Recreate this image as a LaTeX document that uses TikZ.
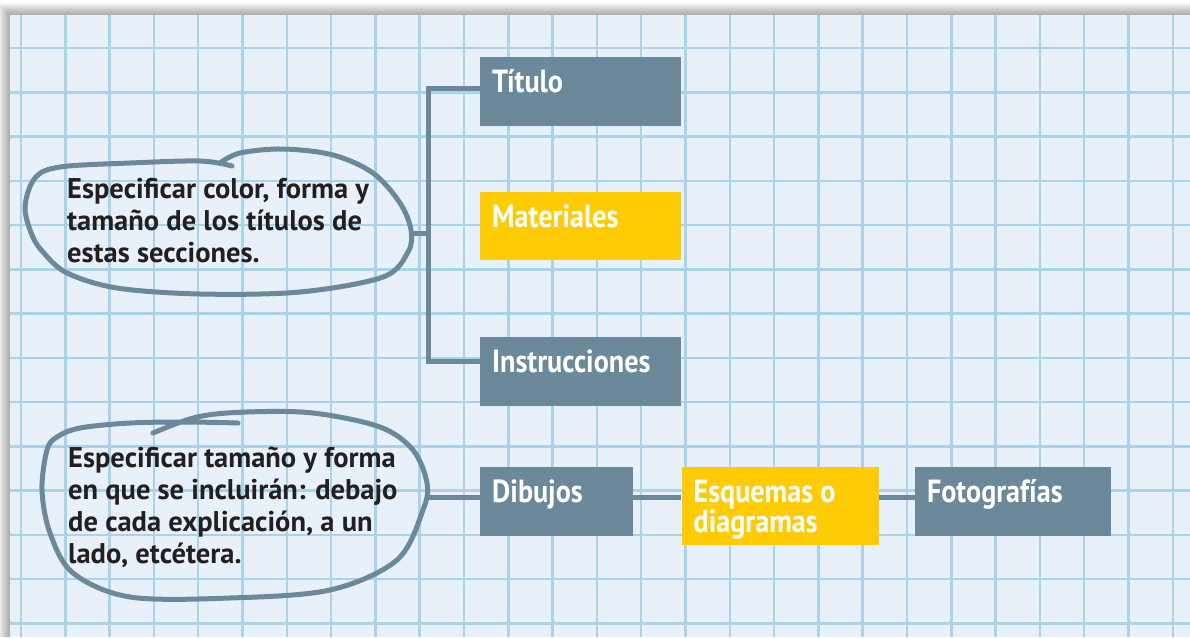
\documentclass[tikz,border=0pt]{standalone}
\usepackage{fontspec}
\setmainfont{PT Sans}[FakeStretch=0.88]
\newfontfamily\notafuente{PT Sans}
\definecolor{pizarra}{HTML}{6B899A}
\definecolor{ambar}{HTML}{FFCB05}
\definecolor{papel}{HTML}{E8F0F9}
\definecolor{cuadro}{HTML}{A9D3E9}
\definecolor{tinta}{HTML}{231F20}
\newcommand\fuentecaja{\fontsize{32}{30}\selectfont\bfseries}
\newcommand\fuentenota{\notafuente\fontsize{28.5}{32}\selectfont\bfseries}

\begin{document}
\begin{tikzpicture}[x=1pt,y=-1pt,
    caja/.style={fill=pizarra, text=white, font=\fuentecaja, align=flush left, anchor=north west,
      inner xsep=12pt, inner ysep=0pt, text height=35pt, text depth=34pt, text width=#1},
    amarilla/.style={fill=ambar},
    nota/.style={font=\fuentenota, align=left, anchor=base west, inner sep=0pt, text=tinta},
    linea/.style={draw=pizarra, line width=5pt},
    lazo/.style={draw=pizarra, line width=5pt, line cap=round, line join=round},
    rejilla/.style={draw=cuadro, line width=2.5pt}]
  \useasboundingbox (0,0) rectangle (1190,637);
  \foreach \s in {1,...,12} \fill[black, opacity=0.03] (10-\s,15-\s) rectangle (1190,637);
  \fill[papel] (10,15) rectangle (1190,637);
  \foreach \i in {0,...,26} \draw[rejilla] (21+44.3*\i,15) -- (21+44.3*\i,637);
  \foreach \j in {0,...,13} \draw[rejilla] (10,48+44.25*\j) -- (1190,48+44.25*\j);

  \node[caja=177pt] (titulo) at (480,57) {Título};
  \node[caja=177pt, amarilla, text depth=33pt] (materiales) at (480,192) {Materiales};
  \node[caja=177pt] (instrucciones) at (480,337) {Instrucciones};
  \node[caja=129pt] (dibujos) at (480,467) {Dibujos};
  \node[caja=173pt, amarilla, text depth=43pt] (esquemas) at ([xshift=48pt]dibujos.north east) {Esquemas o\\diagramas};
  \node[caja=172pt] (fotos) at ([xshift=36pt]esquemas.north east) {Fotografías};

  \node[nota] (nota1) at (67,262) {Especificar color, forma y\\tamaño de los títulos de\\estas secciones.};
  \node[nota] (nota2) at (68,563) {Especificar tamaño y forma\\en que se incluirán: debajo\\de cada explicación, a un\\lado, etcétera.};

  \draw[lazo] plot[smooth, tension=0.55] coordinates {(232,166) (200,161) (130,163) (60,167) (35,178)
    (25,207) (32,235) (43,252) (67,273) (117,288) (200,294) (300,292) (383,277) (408,252) (411,230)
    (400,203) (373,173) (333,155) (283,149) (240,153) (220,163)};
  \draw[lazo] plot[smooth, tension=0.55] coordinates {(238,423) (187,422) (130,423) (80,428) (57,437)
    (47,450) (42,490) (50,533) (73,573) (130,597) (230,598) (330,590) (397,560) (423,510) (427,483)
    (413,450) (380,427) (313,413) (247,412) (197,417) (153,433)};

  \coordinate (lazo1) at (411,233);
  \coordinate (lazo2) at (426,497);
  \coordinate (barra) at (428,233);
  \draw[linea] ([yshift=3pt]titulo.west) -| (barra) |- ([yshift=10pt]instrucciones.west);
  \draw[linea] (lazo1) -- (barra);
  \draw[linea] (lazo2) -- (lazo2 -| dibujos.west);
  \draw[linea] (lazo2 -| dibujos.east) -- (lazo2 -| esquemas.west);
  \draw[linea] (lazo2 -| esquemas.east) -- (lazo2 -| fotos.west);
\end{tikzpicture}
\end{document}
